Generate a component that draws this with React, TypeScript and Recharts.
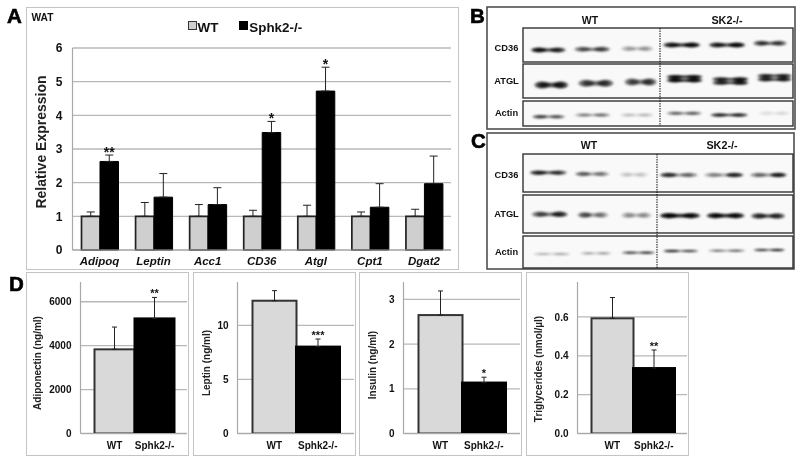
import React from "react";
import { BarChart, Bar, XAxis, YAxis, CartesianGrid, ErrorBar, LabelList, Legend } from "recharts";

const FONT = "'Liberation Sans', Arial, sans-serif";

// Panel A
const genes = ["Adipoq", "Leptin", "Acc1", "CD36", "Atgl", "Cpt1", "Dgat2"];
const wtExpr = [1, 1, 1, 1, 1, 1, 1];
const koExpr = [2.63, 1.57, 1.35, 3.49, 4.72, 1.27, 1.97];
const wtExprErr = [0.13, 0.41, 0.35, 0.18, 0.33, 0.13, 0.21];
const koExprErr = [0.19, 0.7, 0.5, 0.33, 0.71, 0.7, 0.82];
const koExprSig = ["**", "", "", "*", "*", "", ""];
const exprTicks = [0, 1, 2, 3, 4, 5, 6];

// Panel D
const groups = ["WT", "Sphk2-/-"];
const adiponectin = [3833, 5242];
const adiponectinErr = [1015, 955];
const adiponectinTicks = [0, 2000, 4000, 6000];
const leptin = [12.27, 8.03];
const leptinErr = [0.93, 0.7];
const leptinTicks = [0, 5, 10];
const insulin = [2.65, 1.14];
const insulinErr = [0.54, 0.12];
const insulinTicks = [0, 1, 2, 3];
const triglycerides = [0.593, 0.337];
const triglyceridesErr = [0.107, 0.093];
const triglyceridesTicks = [0, 0.2, 0.4, 0.6];

// Blot band strengths per lane (left lobe, right lobe)
const blotB = {
  CD36: [[0.95, 0.8], [0.55, 0.65], [0.25, 0.28], [0.9, 1], [0.85, 1], [0.7, 0.65]],
  ATGL: [[0.8, 0.85], [0.65, 0.7], [0.6, 0.7], [1, 1], [0.85, 1], [0.85, 0.9]],
  Actin: [[0.7, 0.55], [0.35, 0.45], [0.15, 0.18], [0.45, 0.5], [0.8, 0.8], [0.08, 0.1]],
};
const blotC = {
  CD36: [[0.85, 0.7], [0.55, 0.4], [0.14, 0.14], [0.85, 0.45], [0.35, 0.9], [0.45, 0.95]],
  ATGL: [[0.6, 0.85], [0.65, 0.4], [0.3, 0.3], [1, 0.95], [0.95, 0.95], [0.75, 0.75]],
  Actin: [[0.2, 0.25], [0.25, 0.3], [0.65, 0.75], [0.85, 0.6], [0.4, 0.5], [0.65, 0.8]],
};

const panelBox = (left: number, top: number, width: number, height: number): React.CSSProperties => ({
  position: "absolute", left, top, width, height, border: "1.5px solid #c4c4c4", boxSizing: "border-box",
});

function starLabel(means: number[], errs: number[], fontSize: number, lift: number) {
  return (p: any) => {
    if (!p.value) return null;
    const b = p.viewBox ?? p;
    const top = b.y - (errs[p.index] * b.height) / means[p.index];
    return (
      <text x={b.x + b.width / 2} y={top + lift} textAnchor="middle" fontSize={fontSize} fontWeight={700} fontFamily={FONT} fill="#111">
        {p.value}
      </text>
    );
  };
}

function axisTitle(text: string, x: number, y: number, fontSize: number) {
  return (
    <text x={x} y={y} textAnchor="middle" dominantBaseline="central" transform={`rotate(-90 ${x} ${y})`} fontSize={fontSize} fontWeight={700} fontFamily={FONT} fill="#222">
      {text}
    </text>
  );
}

const panelARows = genes.map((g, i) => ({
  gene: g,
  WT: wtExpr[i],
  "Sphk2-/-": koExpr[i],
  wtErr: [0, wtExprErr[i]],
  koErr: [0, koExprErr[i]],
  sig: koExprSig[i],
}));

function LegendA(props: any) {
  const items = props.payload ?? [];
  return (
    <div style={{ position: "absolute", left: 160.5, top: 10.5, display: "flex", fontFamily: FONT, fontWeight: 700, fontSize: 13.4, color: "#111", lineHeight: "17px", whiteSpace: "nowrap" }}>
      {items.map((it: any, i: number) => (
        <span key={i} style={{ display: "flex", alignItems: "center", marginRight: 21 }}>
          <span style={{ width: 7, height: 7, marginRight: 1, marginTop: -3, background: i === 0 ? "#cfcfcf" : "#000", border: i === 0 ? "1.2px solid #333" : "1.2px solid #000", display: "inline-block" }} />
          {it.value}
        </span>
      ))}
    </div>
  );
}

function PanelA() {
  return (
    <div style={panelBox(26, 7, 433, 263)}>
      <div style={{ position: "absolute", left: 4.5, top: 4, fontFamily: FONT, fontWeight: 700, fontSize: 10.2, color: "#111" }}>WAT</div>
      <BarChart width={430} height={260} data={panelARows} margin={{ top: 40, right: 6, bottom: 0, left: 0 }} barGap={0} barSize={18.5}>
        <CartesianGrid vertical={false} fill="none" stroke="#b8b8b8" strokeWidth={1.4} horizontalValues={exprTicks} />
        <XAxis dataKey="gene" stroke="#a8a8a8" strokeWidth={1.2} tickLine={false} height={18} tickSize={0} tickMargin={6.5} interval={0}
          tick={{ fontSize: 11.5, fontWeight: 700, fontStyle: "italic", fontFamily: FONT, fill: "#111" }} />
        <YAxis domain={[0, 6]} ticks={exprTicks} width={45.5} stroke="#a8a8a8" strokeWidth={1.2} tickLine={false} tickSize={0} tickMargin={10}
          tick={{ fontSize: 12, fontWeight: 700, fontFamily: FONT, fill: "#111" }}
          label={{ content: () => axisTitle("Relative Expression", 14, 134, 14) }} />
        <Legend content={<LegendA />} verticalAlign="top" itemSorter={null} wrapperStyle={{ left: 0, top: 0, width: 0, height: 0 }} />
        <Bar dataKey="WT" fill="#cfcfcf" stroke="#222" strokeWidth={1.7} isAnimationActive={false}>
          <ErrorBar dataKey="wtErr" direction="y" stroke="#222" strokeWidth={1} width={4} />
        </Bar>
        <Bar dataKey="Sphk2-/-" fill="#000" stroke="#000" strokeWidth={1} isAnimationActive={false}>
          <ErrorBar dataKey="koErr" direction="y" stroke="#222" strokeWidth={1} width={4} />
          <LabelList dataKey="sig" content={starLabel(koExpr, koExprErr, 14, 2)} />
        </Bar>
      </BarChart>
    </div>
  );
}

type MiniProps = {
  box: [number, number, number];
  axisW: number; band: number; padL: number;
  title: string; titleX: number; titleY: number;
  means: number[]; errs: number[]; sig: string; ticks: number[]; max: number;
  fmt?: (v: number) => string;
};

function MiniChart({ box, axisW, band, padL, title, titleX, titleY, means, errs, sig, ticks, max, fmt }: MiniProps) {
  const [left, width, bars] = box;
  const rows = groups.map((g, i) => ({ group: g, value: means[i], err: [0, errs[i]], sig: i === 1 ? sig : "" }));
  const chartW = width - 3;
  const padR = Math.max(0, chartW - axisW - padL - band * 2);
  return (
    <div style={panelBox(left, 272, width, 184)}>
      <BarChart width={chartW} height={181} data={rows} margin={{ top: 9, right: 0, bottom: 0, left: 0 }} barCategoryGap={0}>
        <CartesianGrid vertical={false} fill="none" stroke="#b8b8b8" strokeWidth={1.3} horizontalValues={ticks} />
        <XAxis dataKey="group" stroke="#a8a8a8" strokeWidth={1.2} tickLine={false} tickSize={0} tickMargin={8} height={20.5} interval={0}
          padding={{ left: padL, right: padR }}
          tick={{ fontSize: 10, fontWeight: 700, fontFamily: FONT, fill: "#111" }} />
        <YAxis domain={[0, max]} ticks={ticks} width={axisW} allowDataOverflow stroke="#a8a8a8" strokeWidth={1.2} tickLine={false} tickSize={0} tickMargin={9}
          tickFormatter={fmt} interval={0}
          tick={{ fontSize: 10, fontWeight: 700, fontFamily: FONT, fill: "#111" }}
          label={{ content: () => axisTitle(title, titleX, titleY, 10) }} />
        <Bar dataKey="value" isAnimationActive={false} fill="#d9d9d9" stroke="#222" strokeWidth={bars}
          shape={(p: any) => (
            <rect x={p.x} y={p.y} width={p.width} height={p.height} fill={p.index === 0 ? "#d9d9d9" : "#000"} stroke={p.index === 0 ? "#333" : "#000"} strokeWidth={bars} />
          )}>
          <ErrorBar dataKey="err" direction="y" stroke="#222" strokeWidth={1} width={2.5} />
          <LabelList dataKey="sig" content={starLabel(means, errs, 11, 0)} />
        </Bar>
      </BarChart>
    </div>
  );
}

// ---- Western blots (plain SVG bands) ----
type Lane = number[];
function Band({ x0, x1, y, h, s }: { x0: number; x1: number; y: number; h: number; s: Lane }) {
  const w = x1 - x0;
  return (
    <g>
      <ellipse cx={x0 + w * 0.2} cy={y} rx={w * 0.24} ry={h / 2} fill="#000" opacity={s[0] * 0.9} />
      <ellipse cx={x0 + w * 0.8} cy={y} rx={w * 0.24} ry={h / 2} fill="#000" opacity={s[1] * 0.9} />
      <rect x={x0 + w * 0.12} y={y - h * 0.33} width={w * 0.76} height={h * 0.66} fill="#000" opacity={Math.min(s[0], s[1]) * 0.85} />
    </g>
  );
}

const zx = (v: number) => 460 + v / 3;
const zy = (v: number) => v / 3;

type RowGeom = { name: string; top: number; bot: number; labelY: number; ranges: number[][]; ys: number[]; h: number; dbl?: boolean };

const geomB: RowGeom[] = [
  { name: "CD36", top: 28, bot: 62, labelY: 48, ranges: [[218, 312], [348, 445], [488, 575], [615, 715], [752, 850], [885, 975]], ys: [150, 148, 146, 135, 135, 130], h: 5 },
  { name: "ATGL", top: 64, bot: 98, labelY: 81, ranges: [[228, 320], [360, 455], [498, 585], [625, 722], [762, 860], [897, 990]], ys: [255, 250, 246, 236, 243, 233], h: 7, dbl: true },
  { name: "Actin", top: 101, bot: 126, labelY: 113, ranges: [[222, 310], [350, 445], [485, 575], [625, 720], [757, 858], [900, 985]], ys: [350, 345, 345, 340, 345, 340], h: 3.5 },
];
const geomC: RowGeom[] = [
  { name: "CD36", top: 154, bot: 192, labelY: 175, ranges: [[215, 315], [350, 443], [483, 560], [605, 708], [738, 845], [875, 975]], ys: [518, 522, 524, 525, 525, 525], h: 4.5 },
  { name: "ATGL", top: 195, bot: 233, labelY: 214, ranges: [[220, 318], [358, 440], [488, 570], [605, 715], [745, 848], [878, 970]], ys: [643, 645, 646, 647, 647, 648], h: 5.5 },
  { name: "Actin", top: 236, bot: 268, labelY: 252, ranges: [[225, 325], [365, 450], [490, 580], [615, 710], [750, 850], [885, 970]], ys: [762, 760, 758, 753, 752, 750], h: 2.5 },
];

function Blot({ geom, vals, outer, dashX, wtX, koX, titleY, id }: { geom: RowGeom[]; vals: any; outer: number[]; dashX: number; wtX: number; koX: number; titleY: number; id: string }) {
  return (
    <g>
      <rect x={outer[0]} y={outer[1]} width={outer[2] - outer[0]} height={outer[3] - outer[1]} fill="#fff" stroke="#444" strokeWidth={1.5} />
      <text x={wtX} y={titleY} textAnchor="middle" fontSize={10.5} fontWeight={700} fontFamily={FONT} fill="#111">WT</text>
      <text x={koX} y={titleY} textAnchor="middle" fontSize={10.8} fontWeight={700} fontFamily={FONT} fill="#111">SK2-/-</text>
      {geom.map((r) => (
        <g key={r.name}>
          <rect x={523} y={r.top} width={270} height={r.bot - r.top} fill="#f9f9f9" stroke="#333" strokeWidth={1.4} />
          <text x={506.5} y={r.labelY + 3} textAnchor="middle" fontSize={9.3} fontWeight={700} fontFamily={FONT} fill="#111">{r.name}</text>
          <g filter={`url(#${id})`}>
            {r.ranges.map((rg, i) => r.dbl && vals[r.name][i][0] > 0.8 ? (
              <g key={i}>
                <Band x0={zx(rg[0])} x1={zx(rg[1])} y={zy(r.ys[i]) - 1.8} h={r.h * 0.55} s={vals[r.name][i]} />
                <Band x0={zx(rg[0])} x1={zx(rg[1])} y={zy(r.ys[i]) + 1.8} h={r.h * 0.55} s={vals[r.name][i]} />
              </g>
            ) : (
              <Band key={i} x0={zx(rg[0])} x1={zx(rg[1])} y={zy(r.ys[i])} h={r.h} s={vals[r.name][i]} />
            ))}
          </g>
        </g>
      ))}
      <line x1={dashX} x2={dashX} y1={geom[0].top} y2={geom[2].bot} stroke="#111" strokeWidth={1} strokeDasharray="1.5 1" />
    </g>
  );
}

function Letter({ x, y, c }: { x: number; y: number; c: string }) {
  return <text x={x} y={y} fontSize={20.5} fontWeight={700} fontFamily={FONT} fill="#000" stroke="#000" strokeWidth={0.6}>{c}</text>;
}

export default function App() {
  return (
    <div style={{ position: "absolute", left: 0, top: 0, width: 800, height: 461, background: "#fff", overflow: "hidden", filter: "blur(0.4px)" }}>
      <PanelA />
      <MiniChart box={[26, 163, 2]} axisW={53.5} band={40} padL={14} title="Adiponectin (ng/ml)" titleX={10.5} titleY={90} means={adiponectin} errs={adiponectinErr} sig="**" ticks={adiponectinTicks} max={6900} />
      <MiniChart box={[193, 163, 2]} axisW={43.5} band={43.5} padL={15} title="Leptin (ng/ml)" titleX={12} titleY={90} means={leptin} errs={leptinErr} sig="***" ticks={leptinTicks} max={14} />
      <MiniChart box={[359, 163, 2]} axisW={43.5} band={43.5} padL={15} title="Insulin (ng/ml)" titleX={12} titleY={92} means={insulin} errs={insulinErr} sig="*" ticks={insulinTicks} max={3.39} />
      <MiniChart box={[526, 163, 2]} axisW={50.5} band={41.5} padL={14} title="Triglycerides (nmol/µl)" titleX={11} titleY={96} means={triglycerides} errs={triglyceridesErr} sig="**" ticks={triglyceridesTicks} max={0.78} fmt={(v) => v.toFixed(1)} />
      <svg width={800} height={461} style={{ position: "absolute", left: 0, top: 0, pointerEvents: "none" }}>
        <defs>
          <filter id="bl" x="-20%" y="-100%" width="140%" height="300%"><feGaussianBlur stdDeviation="1.8 1" /></filter>
        </defs>
        <Blot geom={geomB} vals={blotB} outer={[487, 7, 795, 129]} dashX={660} wtX={590} koX={727} titleY={24} id="bl" />
        <Blot geom={geomC} vals={blotC} outer={[487, 133, 794, 269]} dashX={657} wtX={589} koX={722} titleY={149} id="bl" />
        <Letter x={7} y={23} c="A" />
        <Letter x={470} y={23} c="B" />
        <Letter x={471} y={148} c="C" />
        <Letter x={9} y={291} c="D" />
      </svg>
    </div>
  );
}
